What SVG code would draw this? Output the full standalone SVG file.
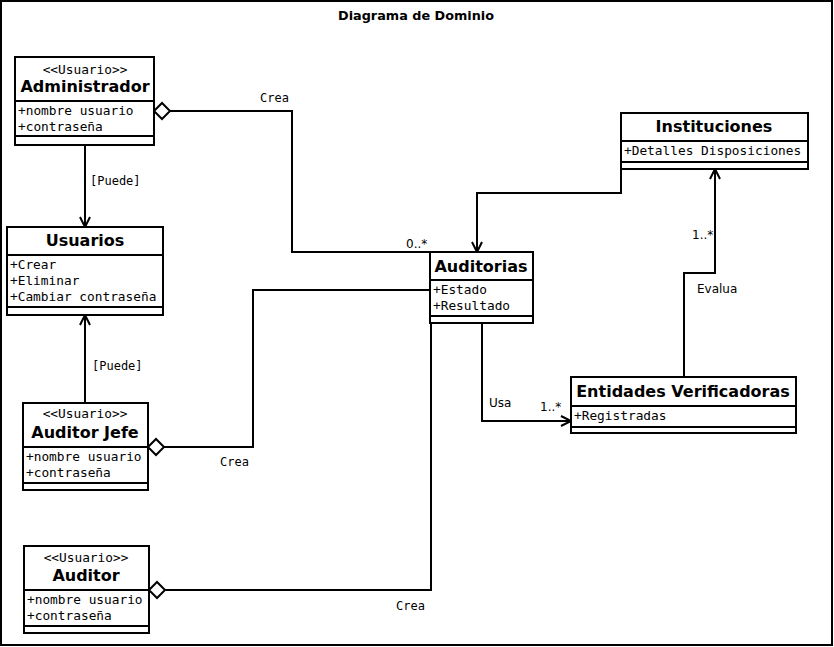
<svg xmlns="http://www.w3.org/2000/svg" width="834" height="647" viewBox="0 0 834 647">
<style>
.box{fill:#fff;stroke:#000;stroke-width:2}
.div{stroke:#000;stroke-width:2}
.name{font-family:"DejaVu Sans",sans-serif;font-weight:bold;font-size:16px;text-anchor:middle}
.st{font-family:"DejaVu Sans Mono",monospace;font-size:12.8px;text-anchor:middle}
.at{font-family:"DejaVu Sans Mono",monospace;font-size:12.8px}
.lm{font-family:"DejaVu Sans Mono",monospace;font-size:12px}
.ls{font-family:"DejaVu Sans",sans-serif;font-size:12px}
.c{fill:none;stroke:#000;stroke-width:2}
</style>
<defs>
<marker id="arr" markerUnits="userSpaceOnUse" viewBox="0 0 12 12" markerWidth="12" markerHeight="12" refX="11" refY="6" orient="auto" overflow="visible">
<path d="M1,1 L11,6 L1,11" fill="none" stroke="#000" stroke-width="2"/>
</marker>
<marker id="dia" markerUnits="userSpaceOnUse" viewBox="0 0 16 16" markerWidth="16" markerHeight="16" refX="0" refY="8" orient="auto" overflow="visible">
<polygon points="0,8 8,0 16,8 8,16" fill="#fff" stroke="#000" stroke-width="2"/>
</marker>
</defs>
<rect x="1" y="1" width="831" height="644" fill="#fff" stroke="#000" stroke-width="2"/>
<text x="416" y="20" font-family="DejaVu Sans,sans-serif" font-weight="bold" font-size="12.8" text-anchor="middle">Diagrama de Dominio</text>

<g id="connectors">
<path class="c" d="M85,145 L85,227" marker-end="url(#arr)"/>
<path class="c" d="M85,403 L85,315" marker-end="url(#arr)"/>
<path class="c" d="M621,169 L621,193 L477,193 L477,252" marker-end="url(#arr)"/>
<path class="c" d="M482,324 L482,421 L571,421" marker-end="url(#arr)"/>
<path class="c" d="M684,377 L684,273 L715,273 L715,169" marker-end="url(#arr)"/>
<path class="c" d="M154,111 L292,111 L292,252 L430,252" marker-start="url(#dia)"/>
<path class="c" d="M148,447 L253,447 L253,290 L430,290" marker-start="url(#dia)"/>
<path class="c" d="M149,590 L431,590 L431,324" marker-start="url(#dia)"/>
<text class="lm" x="260" y="102">Crea</text>
<text class="ls" x="406" y="248">0..*</text>
<text class="lm" x="90" y="185">[Puede]</text>
<text class="lm" x="92" y="370">[Puede]</text>
<text class="lm" x="220" y="466">Crea</text>
<text class="lm" x="396" y="610">Crea</text>
<text class="ls" x="489" y="407">Usa</text>
<text class="ls" x="540" y="411">1..*</text>
<text class="ls" x="697" y="293">Evalua</text>
<text class="ls" x="692" y="239">1..*</text>
</g>

<g id="administrador">
<rect class="box" x="15" y="57" width="139" height="88"/>
<line class="div" x1="15" y1="101" x2="154" y2="101"/>
<line class="div" x1="15" y1="136" x2="154" y2="136"/>
<text class="st" x="85" y="74">&lt;&lt;Usuario&gt;&gt;</text>
<text class="name" x="85" y="92">Administrador</text>
<text class="at" x="18" y="115">+nombre usuario</text>
<text class="at" x="18" y="131">+contraseña</text>
</g>

<g id="usuarios">
<rect class="box" x="7" y="227" width="156" height="88"/>
<line class="div" x1="7" y1="255" x2="163" y2="255"/>
<line class="div" x1="7" y1="307" x2="163" y2="307"/>
<text class="name" x="85" y="246">Usuarios</text>
<text class="at" x="10" y="269">+Crear</text>
<text class="at" x="10" y="285">+Eliminar</text>
<text class="at" x="10" y="301">+Cambiar contraseña</text>
</g>

<g id="auditor-jefe">
<rect class="box" x="23" y="403" width="125" height="87"/>
<line class="div" x1="23" y1="447" x2="148" y2="447"/>
<line class="div" x1="23" y1="483" x2="148" y2="483"/>
<text class="st" x="85" y="418">&lt;&lt;Usuario&gt;&gt;</text>
<text class="name" x="85" y="438">Auditor Jefe</text>
<text class="at" x="26" y="461">+nombre usuario</text>
<text class="at" x="26" y="477">+contraseña</text>
</g>

<g id="auditor">
<rect class="box" x="24" y="546" width="125" height="87"/>
<line class="div" x1="24" y1="590" x2="149" y2="590"/>
<line class="div" x1="24" y1="626" x2="149" y2="626"/>
<text class="st" x="86" y="562">&lt;&lt;Usuario&gt;&gt;</text>
<text class="name" x="86" y="581">Auditor</text>
<text class="at" x="27" y="604">+nombre usuario</text>
<text class="at" x="27" y="620">+contraseña</text>
</g>

<g id="auditorias">
<rect class="box" x="430" y="252" width="103" height="71"/>
<line class="div" x1="430" y1="280" x2="533" y2="280"/>
<line class="div" x1="430" y1="316" x2="533" y2="316"/>
<text class="name" x="481" y="272">Auditorias</text>
<text class="at" x="433" y="294">+Estado</text>
<text class="at" x="433" y="310">+Resultado</text>
</g>

<g id="instituciones">
<rect class="box" x="621" y="113" width="187" height="56"/>
<line class="div" x1="621" y1="141" x2="808" y2="141"/>
<line class="div" x1="621" y1="162" x2="808" y2="162"/>
<text class="name" x="714" y="132">Instituciones</text>
<text class="at" x="624" y="155">+Detalles Disposiciones</text>
</g>

<g id="entidades-verificadoras">
<rect class="box" x="571" y="377" width="225" height="56"/>
<line class="div" x1="571" y1="406" x2="796" y2="406"/>
<line class="div" x1="571" y1="427" x2="796" y2="427"/>
<text class="name" x="683" y="397">Entidades Verificadoras</text>
<text class="at" x="574" y="420">+Registradas</text>
</g>
</svg>
